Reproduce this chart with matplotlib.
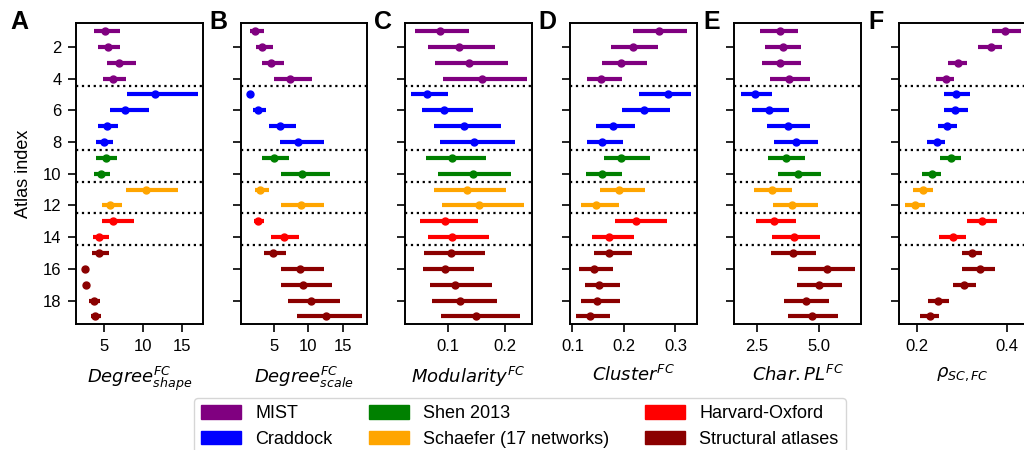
import matplotlib
matplotlib.use("Agg")
import matplotlib.pyplot as plt
from matplotlib.patches import Patch

plt.rcParams['font.family'] = ['Liberation Sans', 'DejaVu Sans']
plt.rcParams['mathtext.fontset'] = 'dejavusans'

# ---------------- data ----------------
atlas_index = list(range(1, 20))
group_names = ['MIST', 'Craddock', 'Shen 2013', 'Schaefer (17 networks)',
               'Harvard-Oxford', 'Structural atlases']
group_colors = ['purple', 'blue', 'green', 'orange', 'red', 'darkred']
row_group = [0, 0, 0, 0, 1, 1, 1, 1, 2, 2, 3, 3, 4, 4, 5, 5, 5, 5, 5]
separators = [4.5, 8.5, 10.5, 12.5, 14.5]

deg_shape_mid = [5.13, 5.43, 6.88, 6.11, 11.54, 7.65, 5.30, 4.91, 5.26, 4.57, 10.38, 5.77, 6.15, 4.27, 4.32, 2.52, 2.65, 3.68, 3.85]
deg_shape_lo = [3.72, 4.19, 5.34, 4.83, 7.91, 5.73, 4.19, 3.93, 3.93, 3.68, 7.78, 4.70, 4.70, 3.55, 3.42, 2.45, 2.40, 3.08, 3.25]
deg_shape_hi = [7.05, 7.05, 9.02, 7.78, 17.00, 10.68, 6.75, 6.11, 6.62, 5.68, 14.44, 7.26, 8.80, 5.60, 5.60, 2.60, 3.00, 4.44, 4.53]

deg_scale_mid = [2.32, 3.37, 4.57, 7.34, 1.55, 2.80, 5.91, 8.59, 5.00, 9.11, 3.04, 8.92, 2.70, 6.44, 4.90, 8.78, 9.21, 10.36, 12.56]
deg_scale_lo = [1.60, 2.46, 3.33, 5.05, 1.50, 2.08, 4.33, 5.91, 3.33, 6.05, 2.37, 6.05, 2.13, 4.62, 3.61, 6.05, 6.05, 7.06, 8.35]
deg_scale_hi = [3.56, 4.86, 6.48, 10.50, 1.60, 3.85, 8.20, 12.20, 7.20, 13.10, 4.33, 12.20, 3.56, 8.64, 6.77, 12.20, 13.37, 14.50, 17.70]

modularity_mid = [0.0854, 0.1193, 0.1374, 0.1602, 0.0632, 0.0936, 0.1280, 0.1468, 0.1082, 0.1444, 0.1345, 0.1550, 0.0953, 0.1082, 0.1058, 0.0959, 0.1123, 0.1222, 0.1497]
modularity_lo = [0.0415, 0.0643, 0.0778, 0.0924, 0.0357, 0.0538, 0.0760, 0.0865, 0.0620, 0.0830, 0.0760, 0.0900, 0.0515, 0.0643, 0.0585, 0.0567, 0.0690, 0.0725, 0.0883]
modularity_hi = [0.1374, 0.1825, 0.2053, 0.2386, 0.1000, 0.1439, 0.1930, 0.2175, 0.1667, 0.2105, 0.2018, 0.2339, 0.1526, 0.1719, 0.1649, 0.1456, 0.1772, 0.1860, 0.2263]

cluster_mid = [0.2676, 0.2172, 0.1951, 0.1557, 0.2845, 0.2385, 0.1783, 0.1576, 0.1951, 0.1576, 0.1906, 0.1453, 0.2230, 0.1712, 0.1718, 0.1421, 0.1518, 0.1479, 0.1337]
cluster_lo = [0.2172, 0.1744, 0.1570, 0.1278, 0.2288, 0.1958, 0.1453, 0.1278, 0.1608, 0.1259, 0.1531, 0.1162, 0.1822, 0.1375, 0.1414, 0.1123, 0.1239, 0.1162, 0.1065]
cluster_hi = [0.3233, 0.2670, 0.2456, 0.1971, 0.3298, 0.2903, 0.2210, 0.1990, 0.2502, 0.1958, 0.2405, 0.1900, 0.2832, 0.2191, 0.2152, 0.1783, 0.1919, 0.1919, 0.1725]

charpl_mid = [3.43, 3.55, 3.45, 3.79, 2.41, 2.98, 3.75, 4.07, 3.66, 4.17, 3.10, 3.94, 3.20, 4.02, 3.98, 5.32, 5.00, 4.48, 4.73]
charpl_lo = [2.61, 2.81, 2.69, 3.01, 1.84, 2.28, 2.89, 3.21, 2.93, 3.37, 2.37, 3.13, 2.45, 3.09, 3.05, 4.18, 4.14, 3.58, 3.74]
charpl_hi = [4.18, 4.30, 4.30, 4.66, 3.09, 3.78, 4.66, 4.99, 4.46, 5.11, 3.94, 4.99, 4.10, 5.07, 4.91, 6.48, 5.95, 5.43, 5.79]

rho_mid = [0.397, 0.364, 0.290, 0.264, 0.286, 0.284, 0.267, 0.243, 0.275, 0.232, 0.213, 0.195, 0.344, 0.280, 0.322, 0.340, 0.304, 0.247, 0.228]
rho_lo = [0.367, 0.336, 0.269, 0.242, 0.260, 0.260, 0.246, 0.222, 0.251, 0.210, 0.190, 0.172, 0.311, 0.249, 0.300, 0.300, 0.280, 0.224, 0.206]
rho_hi = [0.431, 0.390, 0.311, 0.282, 0.318, 0.313, 0.289, 0.262, 0.298, 0.253, 0.235, 0.217, 0.378, 0.309, 0.345, 0.374, 0.331, 0.271, 0.249]

panel_letters = ['A', 'B', 'C', 'D', 'E', 'F']
panel_xlabels = [r'$Degree^{FC}_{shape}$', r'$Degree^{FC}_{scale}$', r'$Modularity^{FC}$',
                 r'$Cluster^{FC}$', r'$Char.PL^{FC}$', r'$\rho_{SC,FC}$']
panel_xticks = [[5, 10, 15], [5, 10, 15], [0.1, 0.2], [0.1, 0.2, 0.3], [2.5, 5.0], [0.2, 0.4]]
panel_xlims = [(1.37, 17.6), (0.26, 18.5), (0.025, 0.248), (0.0948, 0.3408), (1.586, 6.72), (0.159, 0.4426)]
panel_data = [(deg_shape_mid, deg_shape_lo, deg_shape_hi),
              (deg_scale_mid, deg_scale_lo, deg_scale_hi),
              (modularity_mid, modularity_lo, modularity_hi),
              (cluster_mid, cluster_lo, cluster_hi),
              (charpl_mid, charpl_lo, charpl_hi),
              (rho_mid, rho_lo, rho_hi)]

# ---------------- figure ----------------
W, H = 1024, 450
fig = plt.figure(figsize=(W / 100, H / 100), dpi=100)

ax_left0 = 76
ax_step = 164.6
ax_w = 126.7
ax_top = 23
ax_bot = 324.3

for i in range(6):
    left = ax_left0 + i * ax_step
    ax = fig.add_axes([left / W, 1 - ax_bot / H, ax_w / W, (ax_bot - ax_top) / H])
    mid, lo, hi = panel_data[i]
    for r, m, l, h, g in zip(atlas_index, mid, lo, hi, row_group):
        c = group_colors[g]
        ax.errorbar([m], [r], xerr=[[m - l], [h - m]], fmt='o', color=c, ecolor=c,
                    elinewidth=3, markersize=5, capsize=0, zorder=3)
    for s in separators:
        ax.axhline(s, color='black', linestyle=':', linewidth=1.6, zorder=2)
    ax.set_ylim(19.5, 0.5)
    ax.set_xlim(*panel_xlims[i])
    ax.set_xticks(panel_xticks[i])
    ax.set_yticks(list(range(2, 19, 2)))
    ax.tick_params(axis='both', length=6, width=1.2, labelsize=12, pad=4.5)
    for sp in ax.spines.values():
        sp.set_linewidth(1.4)
    if i == 0:
        ax.set_ylabel('Atlas index', fontsize=13, labelpad=8)
    else:
        ax.set_yticklabels([])
    ax.set_xlabel(panel_xlabels[i], fontsize=13, labelpad=8)
    if i == 0:
        lx = 10
    else:
        lx = left - 31
    fig.text(lx / W, 1 - 29.3 / H, panel_letters[i], fontsize=18, fontweight='bold',
             ha='left', va='baseline')

handles = [Patch(facecolor=c, edgecolor=c, label=n) for n, c in zip(group_names, group_colors)]
fig.legend(handles=handles, loc='upper center', bbox_to_anchor=(520 / W, 1 - 398 / H),
           ncol=3, fontsize=13, handlelength=2.2, handleheight=0.8, columnspacing=2.0,
           handletextpad=0.8, borderaxespad=0, labelspacing=0.45)

fig.savefig('out.png', dpi=100)
